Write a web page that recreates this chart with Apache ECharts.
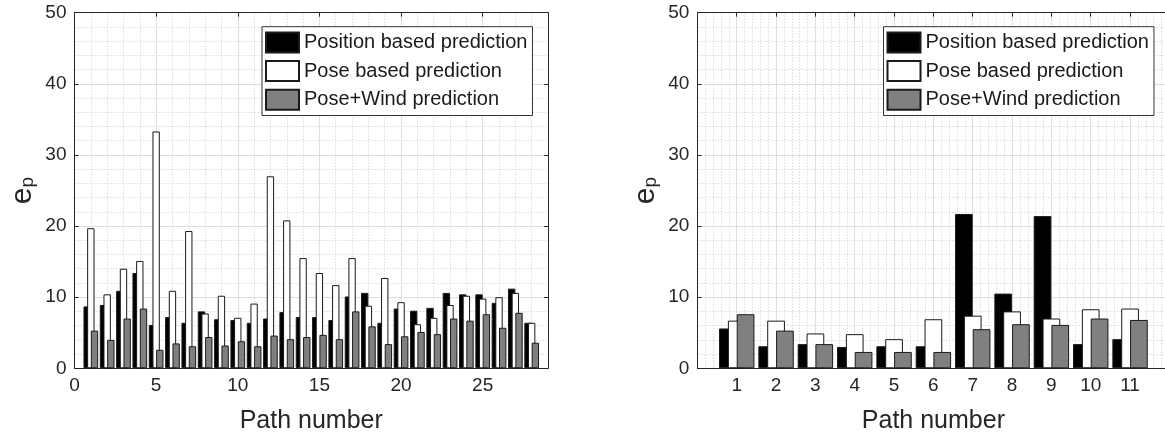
<!DOCTYPE html>
<html><head><meta charset="utf-8">
<script src="https://cdn.jsdelivr.net/npm/echarts@6/dist/echarts.min.js"></script>
<style>html,body{margin:0;padding:0;background:#fff}#c{width:1165px;height:437px}</style>
</head><body><div id="c"></div>
<script>
// ---- data ----
const seriesNames = ['Position based prediction', 'Pose based prediction', 'Pose+Wind prediction'];

const leftPaths = [1,2,3,4,5,6,7,8,9,10,11,12,13,14,15,16,17,18,19,20,21,22,23,24,25,26,27,28];
const leftPosition = [8.7, 8.9, 10.9, 13.4, 6.1, 7.2, 6.4, 8.0, 6.9, 6.8, 6.4, 7.0, 7.9, 7.2, 7.2, 6.8, 10.1, 10.6, 6.4, 8.4, 8.1, 8.5, 10.6, 10.4, 10.4, 9.2, 11.2, 6.4];
const leftPose     = [19.7, 10.4, 14.0, 15.1, 33.3, 10.9, 19.3, 7.7, 10.2, 7.1, 9.1, 27.0, 20.8, 15.5, 13.4, 11.7, 15.5, 8.8, 12.7, 9.3, 6.2, 7.1, 8.9, 10.2, 9.8, 10.0, 10.6, 6.4];
const leftWind     = [5.3, 4.0, 7.0, 8.4, 2.6, 3.5, 3.1, 4.4, 3.2, 3.8, 3.1, 4.6, 4.1, 4.4, 4.7, 4.1, 8.0, 5.9, 3.4, 4.5, 5.1, 4.8, 7.0, 6.7, 7.6, 5.7, 7.8, 3.6];

const rightPaths = [1,2,3,4,5,6,7,8,9,10,11];
const rightPosition = [5.6, 3.1, 3.4, 3.0, 3.1, 3.1, 21.7, 10.5, 21.4, 3.4, 4.1];
const rightPose     = [6.7, 6.7, 4.9, 4.8, 4.1, 6.9, 7.4, 8.0, 7.0, 8.3, 8.4];
const rightWind     = [7.6, 5.3, 3.4, 2.3, 2.3, 2.3, 5.5, 6.2, 6.1, 7.0, 6.8];

const leftXTicks = [0, 5, 10, 15, 20, 25];
const rightXTicks = [1,2,3,4,5,6,7,8,9,10,11];
const yTicks = [0, 10, 20, 30, 40, 50];

// ---- style ----
const FONT = '"Liberation Sans", Arial, Helvetica, sans-serif';
const AX = '#262626';
const MAJOR = '#dedede';
const MINOR = '#cbcbcb';
const fills = ['#000000', '#ffffff', '#808080'];
const TICK_FS = 19;

function pairs(xs, ys) { return xs.map((x, i) => [x, ys[i]]); }

function barSeries(name, color, xs, ys, xi, yi) {
  return {
    type: 'bar', name: name, xAxisIndex: xi, yAxisIndex: yi,
    data: pairs(xs, ys),
    barWidth: '45%', barGap: '-50%',
    itemStyle: { color: color, borderColor: '#1a1a1a', borderWidth: 1 },
    emphasis: { disabled: true }, animation: false
  };
}

const yName = {
  name: '{e|e}{p|p}',
  nameLocation: 'middle', nameRotate: 90, nameGap: 37,
  nameTextStyle: {
    rich: {
      e: { fontSize: 30, fontFamily: FONT, color: AX, lineHeight: 30, verticalAlign: 'top' },
      p: { fontSize: 19, fontFamily: FONT, color: AX, lineHeight: 19, verticalAlign: 'bottom', padding: [20, 0, 0, 0] }
    }
  }
};

function yMain(gi) {
  return Object.assign({
    gridIndex: gi, type: 'value', position: 'left', min: 0, max: 50, interval: 10,
    axisLine: { show: true, lineStyle: { color: AX, width: 1 } },
    axisTick: { show: true, inside: true, length: 4, lineStyle: { color: AX } },
    axisLabel: { fontSize: TICK_FS, fontFamily: FONT, color: AX, margin: 8,
      formatter: v => (yTicks.indexOf(v) >= 0 ? String(v) : '') },
    splitLine: { show: true, lineStyle: { color: MAJOR, width: 1 } },
    minorTick: { show: false, splitNumber: 5 },
    minorSplitLine: { show: true, lineStyle: { color: MINOR, width: 1, type: [1, 2] } }
  }, yName);
}

const xNameCommon = {
  name: 'Path number', nameLocation: 'middle', nameGap: 40,
  nameTextStyle: { fontSize: 25, fontFamily: FONT, color: AX }
};

const option = {
  backgroundColor: '#fff',
  animation: false,
  grid: [
    { left: 74.5, top: 12.7, width: 473.5, height: 355.6, outerBoundsMode: 'none', containLabel: false },
    { left: 697.4, top: 12.7, width: 472, height: 355.6, outerBoundsMode: 'none', containLabel: false }
  ],
  legend: [0, 1].map(k => ({
    data: seriesNames, orient: 'vertical', left: k === 0 ? 262 : 883.5, top: 26.7,
    itemWidth: 33, itemHeight: 20, itemGap: 6.7, padding: [4.7, 5, 4.7, 3],
    borderColor: '#333', borderWidth: 1, backgroundColor: '#fff', icon: 'rect',
    selectedMode: false,
    textStyle: { fontSize: 20, fontFamily: FONT, color: '#1a1a1a' }
  })),
  xAxis: [
    // 0: left minor grid (every 1)
    { gridIndex: 0, type: 'value', position: 'bottom', min: 0, max: 29, interval: 1,
      axisLine: { show: false }, axisTick: { show: false }, axisLabel: { show: false },
      splitLine: { show: true, lineStyle: { color: MINOR, width: 1, type: [1, 2] } } },
    // 1: left main bottom
    Object.assign({ gridIndex: 0, type: 'value', position: 'bottom', min: 0, max: 29, interval: 5,
      axisLine: { show: true, onZero: false, lineStyle: { color: AX, width: 1 } },
      axisTick: { show: true, inside: true, length: 4, lineStyle: { color: AX } },
      axisLabel: { fontSize: TICK_FS, fontFamily: FONT, color: AX, margin: 8, showMaxLabel: false,
        formatter: v => (leftXTicks.indexOf(v) >= 0 ? String(v) : '') },
      splitLine: { show: true, lineStyle: { color: MAJOR, width: 1 } } }, xNameCommon),
    // 2: left top
    { gridIndex: 0, type: 'value', position: 'top', min: 0, max: 29, interval: 5,
      axisLine: { show: true, onZero: false, lineStyle: { color: AX, width: 1 } },
      axisTick: { show: true, inside: true, length: 4, lineStyle: { color: AX } },
      axisLabel: { show: false }, splitLine: { show: false } },
    // 3: right main bottom
    Object.assign({ gridIndex: 1, type: 'value', position: 'bottom', min: 0, max: 12, interval: 1,
      axisLine: { show: true, onZero: false, lineStyle: { color: AX, width: 1 } },
      axisTick: { show: true, inside: true, length: 4, lineStyle: { color: AX } },
      axisLabel: { fontSize: TICK_FS, fontFamily: FONT, color: AX, margin: 8,
        formatter: v => (rightXTicks.indexOf(v) >= 0 ? String(v) : '') },
      splitLine: { show: true, lineStyle: { color: MAJOR, width: 1 } },
      minorTick: { show: false, splitNumber: 5 },
      minorSplitLine: { show: true, lineStyle: { color: MINOR, width: 1, type: [1, 2] } } }, xNameCommon),
    // 4: right top
    { gridIndex: 1, type: 'value', position: 'top', min: 0, max: 12, interval: 1,
      axisLine: { show: true, onZero: false, lineStyle: { color: AX, width: 1 } },
      axisTick: { show: true, inside: true, length: 4, lineStyle: { color: AX } },
      axisLabel: { show: false }, splitLine: { show: false } }
  ],
  yAxis: [
    yMain(0),
    { gridIndex: 0, type: 'value', position: 'right', min: 0, max: 50, interval: 10,
      axisLine: { show: true, onZero: false, lineStyle: { color: AX, width: 1 } },
      axisTick: { show: true, inside: true, length: 4, lineStyle: { color: AX } },
      axisLabel: { show: false }, splitLine: { show: false } },
    yMain(1)
  ],
  series: [
    barSeries(seriesNames[0], fills[0], leftPaths, leftPosition, 1, 0),
    barSeries(seriesNames[1], fills[1], leftPaths, leftPose, 1, 0),
    barSeries(seriesNames[2], fills[2], leftPaths, leftWind, 1, 0),
    barSeries(seriesNames[0], fills[0], rightPaths, rightPosition, 3, 2),
    barSeries(seriesNames[1], fills[1], rightPaths, rightPose, 3, 2),
    barSeries(seriesNames[2], fills[2], rightPaths, rightWind, 3, 2)
  ]
};

const chart = echarts.init(document.getElementById('c'), null, { renderer: 'canvas' });
chart.setOption(option);
</script>
</body></html>
